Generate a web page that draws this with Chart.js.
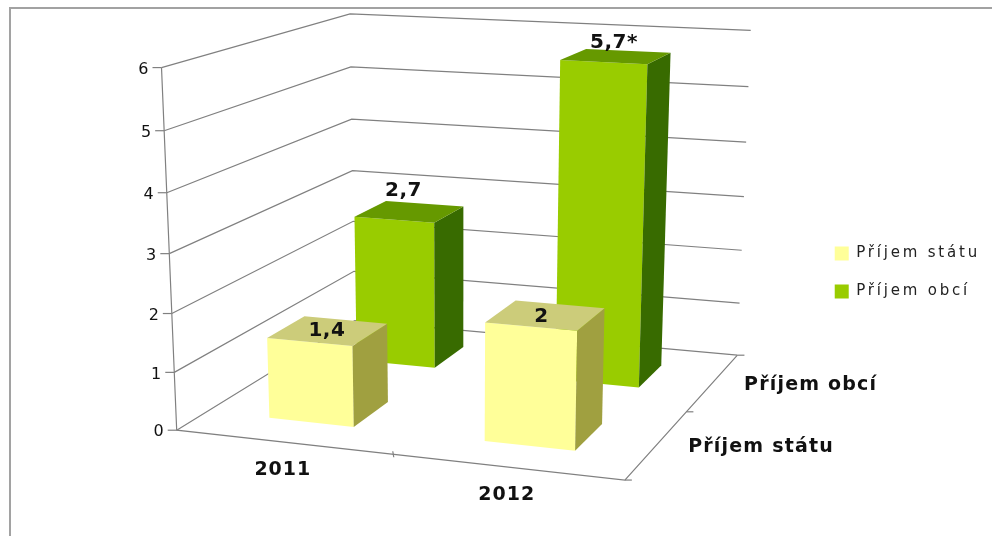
<!DOCTYPE html>
<html>
<head>
<meta charset="utf-8">
<style>
  html, body { margin: 0; padding: 0; background: #fff; }
  canvas { display: block; }
</style>
</head>
<body>
<canvas id="chart" width="992" height="536"></canvas>
<script src="https://cdn.jsdelivr.net/npm/chart.js@4/dist/chart.umd.min.js"></script>
<script>
// Chart data
const years = ['2011', '2012'];
const seriesNames = ['Příjem státu', 'Příjem obcí'];
const statValues = [1.4, 2];
const obecValues = [2.7, 5.7];
const statLabels = ['1,4', '2'];
const obecLabels = ['2,7', '5,7*'];
const valueTicks = [0, 1, 2, 3, 4, 5, 6];

// Where the corners of the plot box land on the page: [u, v, w, screenX, screenY]
const boxCorners = [
  [0, 0, 0, 178, 428], [1, 0, 0, 625, 482], [1, 1, 0, 738, 353], [0, 1, 0, 353, 323],
  [0, 0, 1, 160, 68], [0, 1, 1, 352, 13], [1, 1, 1, 750, 31]
];

// Least squares fit of a perspective camera to the box corners
function fitCamera(corners) {
  const rows = [], rhs = [];
  corners.forEach(function(c) {
    rows.push([c[0], c[1], c[2], 1, 0, 0, 0, 0, -c[3] * c[0], -c[3] * c[1], -c[3] * c[2]]);
    rhs.push(c[3]);
    rows.push([0, 0, 0, 0, c[0], c[1], c[2], 1, -c[4] * c[0], -c[4] * c[1], -c[4] * c[2]]);
    rhs.push(c[4]);
  });
  const n = 11;
  const m = [];
  for (let i = 0; i < n; i++) {
    m.push(new Array(n + 1).fill(0));
    for (let j = 0; j < n; j++) {
      rows.forEach(function(r) { m[i][j] += r[i] * r[j]; });
    }
    rows.forEach(function(r, k) { m[i][n] += r[i] * rhs[k]; });
  }
  for (let i = 0; i < n; i++) {
    let p = i;
    for (let k = i + 1; k < n; k++) {
      if (Math.abs(m[k][i]) > Math.abs(m[p][i])) p = k;
    }
    const tmp = m[i]; m[i] = m[p]; m[p] = tmp;
    for (let k = 0; k < n; k++) {
      if (k === i) continue;
      const f = m[k][i] / m[i][i];
      for (let j = i; j <= n; j++) m[k][j] -= f * m[i][j];
    }
  }
  return m.map(function(r, i) { return r[n] / r[i]; });
}

const cam = fitCamera(boxCorners);

function project(u, v, w) {
  const d = cam[8] * u + cam[9] * v + cam[10] * w + 1;
  return {
    x: (cam[0] * u + cam[1] * v + cam[2] * w + cam[3]) / d,
    y: (cam[4] * u + cam[5] * v + cam[6] * w + cam[7]) / d
  };
}

function polyline(ctx, pts) {
  ctx.beginPath();
  pts.forEach(function(p, i) {
    const s = project(p[0], p[1], p[2]);
    if (i === 0) ctx.moveTo(s.x, s.y); else ctx.lineTo(s.x, s.y);
  });
}

function face(ctx, pts, color) {
  polyline(ctx, pts);
  ctx.closePath();
  ctx.fillStyle = color;
  ctx.fill();
}

function text(ctx, str, x, y, font, align, spacing) {
  ctx.save();
  ctx.letterSpacing = (spacing || 0) + 'px';
  ctx.font = font;
  ctx.textAlign = align;
  ctx.textBaseline = 'middle';
  ctx.fillStyle = '#111';
  ctx.fillText(str, x, y);
  ctx.restore();
}

const DEPTH_BAR = 0.4; // share of a depth slot taken by a bar

function barBox(chart, datasetIndex, index) {
  const area = chart.chartArea;
  const el = chart.getDatasetMeta(datasetIndex).data[index];
  const vMid = (datasetIndex + 0.5) / seriesNames.length;
  const vHalf = DEPTH_BAR / seriesNames.length / 2;
  return {
    u0: (el.x - el.width / 2 - area.left) / area.width,
    u1: (el.x + el.width / 2 - area.left) / area.width,
    v0: vMid - vHalf,
    v1: vMid + vHalf,
    w0: (area.bottom - el.base) / area.height,
    w1: (area.bottom - el.y) / area.height
  };
}

const box3d = {
  id: 'box3d',
  beforeUpdate: function(chart) { chart.ctx.letterSpacing = '2.8px'; },
  beforeDraw: function(chart) {
    const ctx = chart.ctx;
    ctx.letterSpacing = '2.8px';
    // picture frame: only the top and left edges are in view
    ctx.save();
    ctx.strokeStyle = '#a2a2a2';
    ctx.lineWidth = 2;
    ctx.beginPath();
    ctx.moveTo(10, chart.height);
    ctx.lineTo(10, 8);
    ctx.lineTo(chart.width, 8);
    ctx.stroke();
    ctx.restore();
  },
  beforeDatasetsDraw: function(chart) {
    const ctx = chart.ctx;
    const yScale = chart.scales.y;
    const area = chart.chartArea;
    ctx.save();
    ctx.strokeStyle = '#808080';
    ctx.lineWidth = 1.2;

    // walls
    yScale.ticks.forEach(function(t) {
      const w = (area.bottom - yScale.getPixelForValue(t.value)) / area.height;
      polyline(ctx, [[0, 0, w], [0, 1, w], [1, 1, w]]);
      ctx.stroke();
      const p = project(0, 0, w);
      ctx.beginPath();
      ctx.moveTo(p.x - 9, p.y);
      ctx.lineTo(p.x, p.y);
      ctx.stroke();
      text(ctx, t.label, p.x - 13, p.y + 2, '16px "DejaVu Sans"', 'right');
    });

    // floor and value axis
    polyline(ctx, [[0, 0, 1], [0, 0, 0], [1, 0, 0], [1, 1, 0]]);
    ctx.stroke();

    // tick marks on the floor edges
    const mid = project(0.5, 0, 0);
    ctx.beginPath();
    ctx.moveTo(mid.x, mid.y - 3);
    ctx.lineTo(mid.x + 1, mid.y + 3);
    ctx.stroke();
    [0, 0.5, 1].forEach(function(v) {
      const p = project(1, v, 0);
      ctx.beginPath();
      ctx.moveTo(p.x, p.y);
      ctx.lineTo(p.x + 7, p.y);
      ctx.stroke();
    });
    ctx.restore();

    // bars, back row first
    for (let d = chart.data.datasets.length - 1; d >= 0; d--) {
      const ds = chart.data.datasets[d];
      ds.data.forEach(function(value, i) {
        const b = barBox(chart, d, i);
        face(ctx, [[b.u0, b.v0, b.w0], [b.u1, b.v0, b.w0], [b.u1, b.v0, b.w1], [b.u0, b.v0, b.w1]], ds.backgroundColor);
        face(ctx, [[b.u1, b.v0, b.w0], [b.u1, b.v1, b.w0], [b.u1, b.v1, b.w1], [b.u1, b.v0, b.w1]], ds.sideColor);
        face(ctx, [[b.u0, b.v0, b.w1], [b.u1, b.v0, b.w1], [b.u1, b.v1, b.w1], [b.u0, b.v1, b.w1]], ds.topColor);
      });
    }
    return false;
  },
  afterDraw: function(chart) {
    const ctx = chart.ctx;
    const area = chart.chartArea;
    const bold = 'bold 19px "DejaVu Sans"';

    chart.data.datasets.forEach(function(ds, d) {
      ds.data.forEach(function(value, i) {
        const b = barBox(chart, d, i);
        const p = project((b.u0 + b.u1) / 2, (b.v0 + b.v1) / 2, b.w1);
        const shift = ds.labelShift[i];
        text(ctx, ds.valueLabels[i], p.x + shift[0], p.y + shift[1], 'bold 20px "DejaVu Sans"', 'center', 0.5);
      });
    });

    years.forEach(function(y, i) {
      const el = chart.getDatasetMeta(0).data[i];
      const p = project((el.x - area.left) / area.width, 0, 0);
      text(ctx, y, p.x, p.y + 28, bold, 'center', 1);
    });
    seriesNames.forEach(function(name, i) {
      const p = project(1, (i + 0.5) / seriesNames.length, 0);
      text(ctx, name, p.x + 31, p.y + 3, bold, 'left', 1.2);
    });
  }
};

new Chart(document.getElementById('chart').getContext('2d'), {
  type: 'bar',
  data: {
    labels: years,
    datasets: [
      {
        label: seriesNames[0],
        data: statValues,
        valueLabels: statLabels,
        labelShift: [[-1, 0], [-4, 2]],
        backgroundColor: '#ffff99',
        sideColor: '#a0a040',
        topColor: '#cccc7a'
      },
      {
        label: seriesNames[1],
        data: obecValues,
        valueLabels: obecLabels,
        labelShift: [[-6, -21], [-2, -14]],
        backgroundColor: '#99cc00',
        sideColor: '#386b00',
        topColor: '#669900'
      }
    ]
  },
  options: {
    responsive: false,
    animation: false,
    layout: { padding: { top: 9, right: 2, bottom: 0, left: 0 } },
    datasets: {
      bar: { grouped: false, categoryPercentage: 0.4, barPercentage: 1, borderWidth: 0 }
    },
    scales: {
      x: { display: false, offset: true },
      y: {
        display: false,
        min: valueTicks[0],
        max: valueTicks[valueTicks.length - 1],
        afterBuildTicks: function(axis) {
          axis.ticks = valueTicks.map(function(v) { return { value: v, label: String(v) }; });
        }
      }
    },
    plugins: {
      tooltip: { enabled: false },
      legend: {
        position: 'right',
        labels: {
          boxWidth: 14,
          boxHeight: 14,
          padding: 23,
          color: '#222',
          font: { family: '"DejaVu Sans"', size: 15 }
        }
      }
    }
  },
  plugins: [box3d]
});
</script>
</body>
</html>
